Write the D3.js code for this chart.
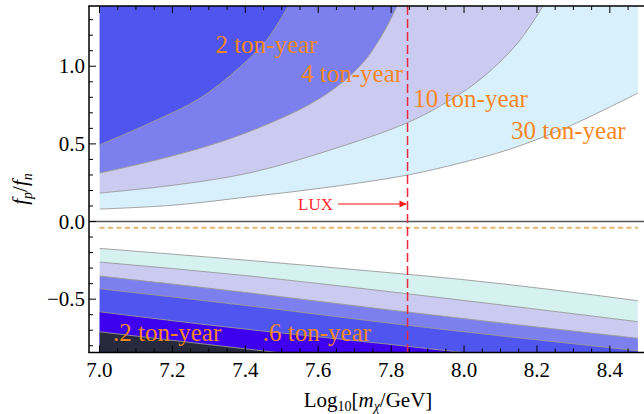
<!DOCTYPE html>
<html><head><meta charset="utf-8">
<script src="https://cdn.jsdelivr.net/npm/d3@7"></script>
<style>body{margin:0;background:#fff}svg{display:block}</style>
</head><body>
<svg id="chart" width="644" height="414"></svg>
<script>
// ---- data (log10 mass, fp/fn) ----
const curve2ty = [[7.0,0.493],[7.138,0.634],[7.276,0.795],[7.385,0.995],[7.454,1.156],[7.495,1.298],[7.523,1.414],[7.535,1.48]];
const curve4ty = [[7.0,0.312],[7.166,0.402],[7.331,0.512],[7.468,0.634],[7.578,0.757],[7.660,0.885],[7.729,1.040],[7.775,1.201],[7.811,1.362],[7.833,1.478]];
const curve10ty = [[7.0,0.183],[7.207,0.235],[7.413,0.314],[7.632,0.460],[7.844,0.636],[7.962,0.782],[8.049,0.924],[8.145,1.143],[8.217,1.388],[8.236,1.459]];
const curve30ty = [[7.0,0.080],[7.207,0.106],[7.413,0.160],[7.632,0.222],[7.844,0.299],[7.990,0.377],[8.127,0.467],[8.283,0.608],[8.477,0.827]];
const upperCurves = [curve30ty, curve10ty, curve4ty, curve2ty];
const upperColors = ["#d8f0fc", "#cbcbf1", "#7c80ef", "#5155f0"];

const low1 = [[7.0,-0.173],[7.413,-0.251],[7.797,-0.330],[7.981,-0.370],[8.477,-0.510]];
const low2 = [[7.0,-0.261],[7.413,-0.351],[7.797,-0.452],[8.477,-0.645]];
const low3 = [[7.0,-0.351],[7.413,-0.460],[7.797,-0.570],[8.477,-0.752]];
const low4 = [[7.0,-0.433],[7.413,-0.544],[7.797,-0.655],[8.477,-0.832]];
const low5 = [[7.0,-0.581],[7.276,-0.660],[7.954,-0.832],[8.099,-0.872]];
const low6 = [[7.0,-0.710],[7.276,-0.786],[7.523,-0.853]];
const lowerLines = [low1, low2, low3, low4, low5, low6];
const lowerColors = ["#d5f2f0", "#cbcbf1", "#7c80ef", "#5155f0", "#3e00ee", "#262a3c"];

const labels = ["2 ton-year", "4 ton-year", "10 ton-year", "30 ton-year", ".2 ton-year", ".6 ton-year"];
const labelPos = [[7.318, 1.083], [7.553, 0.900], [7.861, 0.735], [8.129, 0.529], [7.037, -0.769], [7.448, -0.769]];

const xMajor = [7.0, 7.2, 7.4, 7.6, 7.8, 8.0, 8.2, 8.4];
const yMajor = [-0.5, 0.0, 0.5, 1.0];
const luxMass = 7.845;
const dashLevel = -0.04;

// ---- scales ----
const x = d3.scaleLinear().domain([6.9712, 8.5]).range([89, 646.3]);
const y = d3.scaleLinear().domain([-0.8435, 1.388]).range([352.5, 6]);
const xMin = 7.0, xMax = 8.477, yTop = 1.388, yBot = -0.8435;

const svg = d3.select("#chart");
const serif = "'Liberation Serif','Times New Roman',serif";

svg.append("clipPath").attr("id", "plotclip").append("rect")
  .attr("x", x(xMin)).attr("y", y(yTop)).attr("width", x(xMax) - x(xMin)).attr("height", y(yBot) - y(yTop));

const g = svg.append("g").attr("clip-path", "url(#plotclip)");
const smooth = d3.curveCatmullRom.alpha(0.5);
const lineGen = d3.line().x(d => x(d[0])).y(d => y(d[1])).curve(smooth);

// upper regions: fill above each curve
upperCurves.forEach((c, i) => {
  const area = d3.area().x(d => x(d[0])).y0(y(yTop + 0.2)).y1(d => y(d[1])).curve(smooth);
  g.append("path").attr("d", area(c)).attr("fill", upperColors[i]);
  const last = c[c.length - 1];
  if (last[1] < yTop) {
    g.append("rect").attr("x", x(last[0])).attr("y", 0).attr("width", 100).attr("height", y(last[1])).attr("fill", upperColors[i]);
  }
});
upperCurves.forEach(c => {
  g.append("path").attr("d", lineGen(c)).attr("fill", "none").attr("stroke", "#9a9a9a").attr("stroke-width", 0.9);
});

// lower regions: fill below each line
const lowLine = d3.line().x(d => x(d[0])).y(d => y(d[1])).curve(d3.curveMonotoneX);
lowerLines.forEach((c, i) => {
  const area = d3.area().x(d => x(d[0])).y0(y(yBot - 0.2)).y1(d => y(d[1])).curve(d3.curveMonotoneX);
  g.append("path").attr("d", area(c)).attr("fill", lowerColors[i]);
});
lowerLines.forEach(c => {
  g.append("path").attr("d", lowLine(c)).attr("fill", "none").attr("stroke", "#9a9a9a").attr("stroke-width", 0.9);
});

// zero line
svg.append("line").attr("x1", x(6.9712)).attr("x2", 646).attr("y1", y(0)).attr("y2", y(0))
  .attr("stroke", "#555").attr("stroke-width", 1.5);
// orange dashed line
svg.append("line").attr("x1", x(xMin)).attr("x2", x(xMax)).attr("y1", y(dashLevel)).attr("y2", y(dashLevel))
  .attr("stroke", "#e8b66c").attr("stroke-width", 2).attr("stroke-dasharray", "5,3.5");

// LUX vertical dashed
svg.append("line").attr("x1", x(luxMass)).attr("x2", x(luxMass)).attr("y1", y(yTop)).attr("y2", y(yBot))
  .attr("stroke", "#e8283f").attr("stroke-width", 1.5).attr("stroke-dasharray", "9,4");

// LUX arrow
const arrowY = y(0.113);
svg.append("defs").append("marker").attr("id", "arr").attr("viewBox", "0 0 10 10")
  .attr("refX", 10).attr("refY", 5).attr("markerWidth", 11).attr("markerHeight", 7).attr("markerUnits", "userSpaceOnUse")
  .attr("orient", "auto").append("path").attr("d", "M0,0L10,5L0,10z").attr("fill", "#ff1a1a");
svg.append("line").attr("x1", 338).attr("x2", x(luxMass) - 1).attr("y1", arrowY).attr("y2", arrowY)
  .attr("stroke", "#ff5c5c").attr("stroke-width", 1.4).attr("marker-end", "url(#arr)");
svg.append("text").attr("x", 333).attr("y", arrowY + 6.5).attr("text-anchor", "end")
  .attr("font-family", serif).attr("font-size", 17).attr("fill", "#ff2a2a").text("LUX");

// contour labels
labels.forEach((t, i) => {
  svg.append("text").attr("x", x(labelPos[i][0])).attr("y", y(labelPos[i][1]))
    .attr("font-family", serif).attr("font-size", 25).attr("fill", "#f7871e").text(t);
});

// frame
const fr = svg.append("g").attr("stroke", "#000").attr("stroke-width", 1.5).attr("fill", "none");
fr.append("line").attr("x1", 89).attr("x2", 89).attr("y1", y(yTop)).attr("y2", y(yBot));
fr.append("line").attr("x1", 88.25).attr("x2", 650).attr("y1", y(yTop)).attr("y2", y(yTop));
fr.append("line").attr("x1", 88.25).attr("x2", 650).attr("y1", y(yBot)).attr("y2", y(yBot));

// ticks
const tk = svg.append("g").attr("stroke", "#000").attr("stroke-width", 1);
d3.range(140, 170).map(k => k * 0.05).forEach(v => {
  const major = Math.abs(Math.round(v * 5) - v * 5) < 1e-6;
  const len = major ? 7 : 4;
  tk.append("line").attr("x1", x(v)).attr("x2", x(v)).attr("y1", y(yBot)).attr("y2", y(yBot) - len);
  tk.append("line").attr("x1", x(v)).attr("x2", x(v)).attr("y1", y(yTop)).attr("y2", y(yTop) + len);
});
d3.range(-8, 14).map(k => k * 0.1).forEach(v => {
  const major = Math.abs(Math.round(v * 2) - v * 2) < 1e-6;
  const len = major ? 7 : 4;
  tk.append("line").attr("x1", 89).attr("x2", 89 + len).attr("y1", y(v)).attr("y2", y(v));
});

// tick labels
xMajor.forEach(v => {
  svg.append("text").attr("x", x(v)).attr("y", 377).attr("text-anchor", "middle")
    .attr("font-family", serif).attr("font-size", 21).attr("fill", "#000").text(v.toFixed(1));
});
yMajor.forEach(v => {
  svg.append("text").attr("x", 85).attr("y", y(v) + 7).attr("text-anchor", "end")
    .attr("font-family", serif).attr("font-size", 21).attr("fill", "#000")
    .text(v < 0 ? "\u2212" + Math.abs(v).toFixed(1) : v.toFixed(1));
});

// axis titles
const xt = svg.append("text").attr("x", 368).attr("y", 407).attr("text-anchor", "middle")
  .attr("font-family", serif).attr("font-size", 21).attr("fill", "#000");
xt.append("tspan").text("Log");
xt.append("tspan").attr("font-size", 14).attr("dy", 4).text("10");
xt.append("tspan").attr("dy", -4).text("[");
xt.append("tspan").attr("font-style", "italic").text("m");
xt.append("tspan").attr("font-style", "italic").attr("font-size", 14).attr("dy", 4).text("\u03c7");
xt.append("tspan").attr("dy", -4).text("/GeV]");

const yt = svg.append("text").attr("transform", "translate(27,189) rotate(-90)").attr("text-anchor", "middle")
  .attr("font-family", serif).attr("font-size", 21).attr("fill", "#000");
yt.append("tspan").attr("font-style", "italic").text("f");
yt.append("tspan").attr("font-style", "italic").attr("font-size", 14).attr("dy", 5).text("p");
yt.append("tspan").attr("dy", -5).text("/");
yt.append("tspan").attr("font-style", "italic").text("f");
yt.append("tspan").attr("font-style", "italic").attr("font-size", 14).attr("dy", 5).text("n");
</script>
</body></html>
